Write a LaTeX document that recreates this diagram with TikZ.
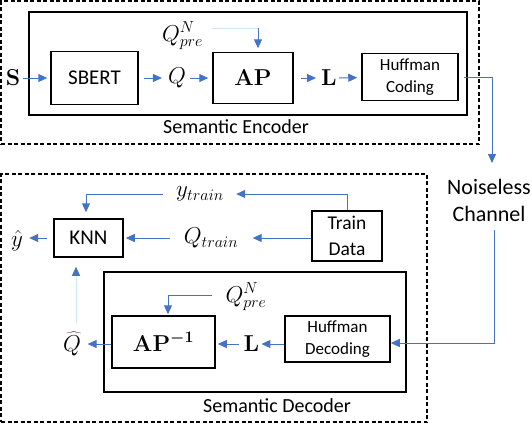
\RequirePackage{fix-cm}
\documentclass[tikz,border=0pt]{standalone}
\usepackage[no-math]{fontspec}
\setmainfont{Carlito}
\usetikzlibrary{arrows.meta}
\DeclareMathSizes{23}{23}{16}{12}
\definecolor{ablue}{RGB}{68,114,196}
\definecolor{lblue}{RGB}{205,228,245}
\begin{document}
\begin{tikzpicture}[x=1pt,y=-1pt,
  blk/.style={draw,line width=1.5pt,inner sep=0pt,align=center},
  frm/.style={draw,line width=2pt,inner sep=0pt},
  dfrm/.style={draw,line width=1.3pt,inner sep=0pt,dash pattern=on 4pt off 2.5pt},
  fbig/.style={font=\fontsize{21}{25}\selectfont},
  fmath/.style={font=\fontsize{23}{27}\selectfont},
  fhuff/.style={font=\fontsize{17}{22}\selectfont},
  ftrain/.style={font=\fontsize{19.5}{26}\selectfont},
  fcap/.style={font=\fontsize{20}{24}\selectfont},
  fchan/.style={font=\fontsize{22}{27}\selectfont},
  lab/.style={inner sep=0pt,fmath},
  arr/.style={ablue,line width=1pt,-{Triangle[length=9pt,width=8pt]}},
  fline/.style={lblue,line width=1pt},
  farr/.style={lblue,line width=1pt,-{Triangle[length=9pt,width=8pt,color=ablue]}}
]
\useasboundingbox (0,0) rectangle (532,424);

% frames
\node[dfrm,minimum width=478pt,minimum height=143pt] (encout) at (240,72.5) {};
\node[frm,minimum width=438pt,minimum height=103pt] (encin) at (248,63.5) {};
\node[dfrm,minimum width=426pt,minimum height=248pt] (decout) at (214,298) {};
\node[frm,minimum width=302pt,minimum height=120pt] (decin) at (255,332) {};

% encoder blocks
\node[blk,fbig,minimum width=87pt,minimum height=53pt] (SBERT) at (94.5,78) {SBERT};
\node[blk,fmath,minimum width=80pt,minimum height=51pt] (AP) at (253,78) {$\mathbf{AP}$};
\node[blk,fhuff,minimum width=96pt,minimum height=47pt] (HC) at (410,77) {Huffman\\Coding};

% decoder blocks
\node[blk,fbig,minimum width=69pt,minimum height=38pt] (KNN) at (88.5,238) {KNN};
\node[blk,ftrain,minimum width=70pt,minimum height=50pt] (Train) at (347,236) {Train\\Data};
\node[blk,fmath,minimum width=103pt,minimum height=52pt] (APinv) at (163.5,342) {{\boldmath$\mathbf{AP}^{-1}$}};
\node[blk,fhuff,minimum width=105pt,minimum height=46pt] (HD) at (337.5,339) {Huffman\\Decoding};

% math labels
\node[lab,minimum width=12pt] (S) at (13,78) {$\mathbf{S}$};
\node[lab,minimum width=14pt] (Q) at (177,78) {$Q$};
\node[lab,minimum width=12pt] (L) at (329,78) {$\mathbf{L}$};
\node[lab,minimum width=49pt] (Qpre) at (182.5,36) {$Q_{pre}^{N}$};
\node[lab,minimum width=62pt] (ytrain) at (200,194) {$y_{train}$};
\node[lab,minimum width=63pt] (Qtrain) at (211,238) {$Q_{train}$};
\node[lab,minimum width=15pt] (yhat) at (17,241) {$\hat{y}$};
\node[lab,minimum width=15pt] (Qhat) at (72,344) {$\widehat{Q}$};
\node[lab,minimum width=13pt] (Lb) at (251.5,344) {$\mathbf{L}$};
\node[lab,minimum width=48pt] (Qpreb) at (246,297) {$Q_{pre}^{N}$};

% captions
\node[fcap,inner sep=0pt] (encl) at (236,127) {Semantic Encoder};
\node[fcap,inner sep=0pt] (decl) at (277,406) {Semantic Decoder};
\node[fchan,inner sep=0pt,align=center] (chan) at (489,200) {Noiseless\\Channel};

% coordinates
\coordinate (chin) at (492,163);
\coordinate (chout) at (494,230);
\coordinate (qc) at (258,28);
\coordinate (qhs) at (76,323);

% encoder connectors
\draw[arr,shorten <=3pt,shorten >=3pt] (S) -- (SBERT);
\draw[arr,shorten <=5pt,shorten >=6pt] (SBERT) -- (Q);
\draw[arr,shorten <=4pt,shorten >=4pt] (Q) -- (AP);
\draw[arr,shorten <=7pt,shorten >=5pt] (AP) -- (L);
\draw[arr,shorten <=2pt,shorten >=4pt] (L) -- (HC);
\draw[fline] ([xshift=5pt]Qpre.east |- qc) -- (qc);
\draw[arr,shorten >=3.5pt] (qc) -- (qc |- AP.north);

% channel
\draw[arr,shorten <=5pt] (HC.east) -| (chin);
\draw[arr] (chout) |- ([yshift=-4pt]HD.east);

% decoder connectors
\draw[arr,shorten >=5pt] (Train.north) |- (ytrain.east);
\draw[arr,shorten <=6pt,shorten >=6pt] (ytrain.west) -| ([xshift=-2.5pt]KNN.north);
\draw[arr,shorten >=10pt] (Train.west |- Qtrain.east) -- (Qtrain.east);
\draw[arr,shorten <=9.5pt,shorten >=2pt] (Qtrain.west) -- (KNN.east);
\draw[arr,shorten <=6pt,shorten >=4.5pt] (KNN.west) -- (KNN.west -| yhat.east);
\draw[farr,shorten >=9pt] (qhs) -- (qhs |- KNN.south);
\draw[arr,shorten >=6.5pt] (APinv.west |- Qhat.east) -- (Qhat.east);
\draw[arr,shorten >=2pt] (HD.west |- Lb.east) -- (Lb.east);
\draw[arr,shorten <=5pt,shorten >=2pt] (Lb.west) -- (Lb.west -| APinv.east);
\draw[arr,shorten <=10pt,shorten >=1pt] ([yshift=2pt]Qpreb.west) -| ([xshift=4.5pt]APinv.north);
\end{tikzpicture}
\end{document}
